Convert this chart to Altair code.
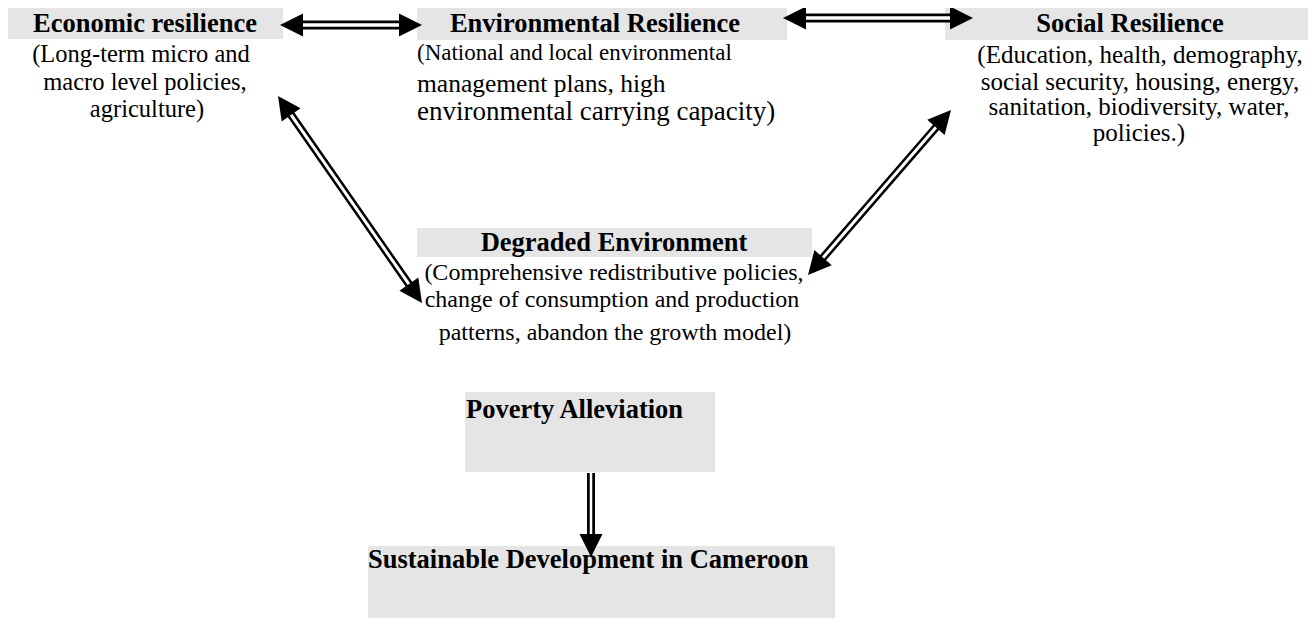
import math
import altair as alt
import pandas as pd

# ---------------- data (text content) ----------------
box_titles = ["Economic resilience", "Environmental Resilience", "Social Resilience",
              "Degraded Environment", "Poverty Alleviation",
              "Sustainable Development in Cameroon"]
economic_lines = ["(Long-term micro and", "macro level policies,", "agriculture)"]
environmental_lines = ["(National and local environmental", "management plans, high",
                       "environmental carrying capacity)"]
social_lines = ["(Education, health, demography,", "social security, housing, energy,",
                "sanitation, biodiversity, water,", "policies.)"]
degraded_lines = ["(Comprehensive redistributive policies,",
                  "change of consumption and production",
                  "patterns, abandon the growth model)"]
arrow_from = ["Economic resilience", "Environmental Resilience", "Economic resilience",
              "Social Resilience", "Poverty Alleviation"]
arrow_to = ["Environmental Resilience", "Social Resilience", "Degraded Environment",
            "Degraded Environment", "Sustainable Development in Cameroon"]
arrow_both_heads = [True, True, True, True, False]

# ---------------- layout (pixel coordinates of the page) ----------------
box_rect = {
    "Economic resilience": (8, 283, 8, 39),
    "Environmental Resilience": (417, 787, 8, 40),
    "Social Resilience": (945, 1316, 8, 40),
    "Degraded Environment": (417, 812, 228, 257),
    "Poverty Alleviation": (465, 715, 392, 472),
    "Sustainable Development in Cameroon": (368, 835, 546, 626),
}
title_pos = {
    "Economic resilience": (145, 24, "center"),
    "Environmental Resilience": (595, 24, "center"),
    "Social Resilience": (1130, 24, "center"),
    "Degraded Environment": (614, 243, "center"),
    "Poverty Alleviation": (466, 410, "left"),
    "Sustainable Development in Cameroon": (368, 560, "left"),
}
sub_layout = [
    # lines, xs, ys, sizes, align
    (economic_lines, [141, 145, 147], [55, 83, 110], [24.5, 24.5, 24.5], "center"),
    (environmental_lines, [417, 417, 417], [53, 84, 112], [23, 25.5, 27], "left"),
    (social_lines, [1140, 1140, 1139, 1139], [55, 82, 107, 133], [25, 25, 25, 25], "center"),
    (degraded_lines, [614, 612, 615], [273, 300, 333], [24, 24, 24], "center"),
]
arrow_tips = [
    ((280, 25), (422, 25)),
    ((783, 18), (973, 18)),
    ((278, 96), (422, 303)),
    ((951, 110), (808, 275)),
    ((591, 473), (591, 557)),
]
arrow_outer = [9, 9, 8, 8, 8]
arrow_inner = [3.5, 3.5, 3, 3, 2.5]
HEAD = 23.0

FONT = "Liberation Serif"
BOX_FILL = "#e5e5e5"

# ---------------- build tables ----------------
boxes = pd.DataFrame([
    {"name": t, "x0": box_rect[t][0], "x1": box_rect[t][1],
     "y0": box_rect[t][2], "y1": box_rect[t][3]} for t in box_titles
])

titles = pd.DataFrame([
    {"text": t, "x": title_pos[t][0], "y": title_pos[t][1], "align": title_pos[t][2]}
    for t in box_titles
])

subs = []
for lines, xs, ys, sizes, align in sub_layout:
    for ln, xx, yy, ss in zip(lines, xs, ys, sizes):
        subs.append({"text": ln, "x": xx, "y": yy, "fs": ss, "align": align})
subs = pd.DataFrame(subs)

seg_rows, head_rows = [], []
for i, (src, dst) in enumerate(zip(arrow_from, arrow_to)):
    (ax, ay), (bx, by) = arrow_tips[i]
    both = arrow_both_heads[i]
    L = math.hypot(bx - ax, by - ay)
    ux, uy = (bx - ax) / L, (by - ay) / L
    so = 12 if both else 0
    si = 15 if both else 0
    seg_rows.append({"link": f"{src} -> {dst}",
                     "ox": ax + so * ux, "oy": ay + so * uy,
                     "ox2": bx - 12 * ux, "oy2": by - 12 * uy,
                     "ix": ax + si * ux, "iy": ay + si * uy,
                     "ix2": bx - 15 * ux, "iy2": by - 15 * uy,
                     "ow": arrow_outer[i], "iw": arrow_inner[i]})
    ang = math.degrees(math.atan2(by - ay, bx - ax)) % 360
    head_rows.append({"x": bx, "y": by, "angle": ang})
    if both:
        head_rows.append({"x": ax, "y": ay, "angle": (ang + 180) % 360})
segs = pd.DataFrame(seg_rows)
heads = pd.DataFrame(head_rows)

# ---------------- scales ----------------
W, H = 1300, 610
xs = alt.Scale(domain=[8, 8 + W], nice=False, zero=False)
ys = alt.Scale(domain=[8, 8 + H], nice=False, zero=False, reverse=True)
X = lambda f: alt.X(f, type="quantitative", scale=xs, axis=None)
Y = lambda f: alt.Y(f, type="quantitative", scale=ys, axis=None)

rects = alt.Chart(boxes).mark_rect(fill=BOX_FILL, strokeWidth=0).encode(
    x=X("x0"), x2="x1", y=Y("y0"), y2="y1")

outer = alt.Chart(segs).mark_rule(color="black", strokeCap="butt").encode(
    x=X("ox"), y=Y("oy"), x2="ox2", y2="oy2",
    strokeWidth=alt.StrokeWidth("ow:Q", scale=None))
inner = alt.Chart(segs).mark_rule(color="white", strokeCap="butt").encode(
    x=X("ix"), y=Y("iy"), x2="ix2", y2="iy2",
    strokeWidth=alt.StrokeWidth("iw:Q", scale=None))

head_path = "M0,0 L-2,-1 L-2,1 Z"
heads_layer = alt.Chart(heads).mark_point(
    shape=head_path, filled=True, fill="black", opacity=1, strokeWidth=0,
    size=(HEAD) ** 2).encode(
    x=X("x"), y=Y("y"), angle=alt.Angle("angle:Q", scale=None))

def title_layer(align):
    d = titles[titles["align"] == align]
    return alt.Chart(d).mark_text(font=FONT, fontWeight="bold", fontSize=26.5,
                                  align=align, baseline="middle", color="black").encode(
        x=X("x"), y=Y("y"), text="text:N")

def sub_layer(align):
    d = subs[subs["align"] == align]
    return alt.Chart(d).mark_text(font=FONT, align=align, baseline="middle",
                                  color="black").encode(
        x=X("x"), y=Y("y"), text="text:N",
        size=alt.Size("fs:Q", scale=None))

chart = alt.layer(
    rects, outer, inner, heads_layer,
    title_layer("center"), title_layer("left"),
    sub_layer("center"), sub_layer("left"),
).properties(width=W, height=H, padding=0, autosize="none").configure_view(stroke=None)

chart.save("out.html", embed_options={"renderer": "svg", "actions": False})
